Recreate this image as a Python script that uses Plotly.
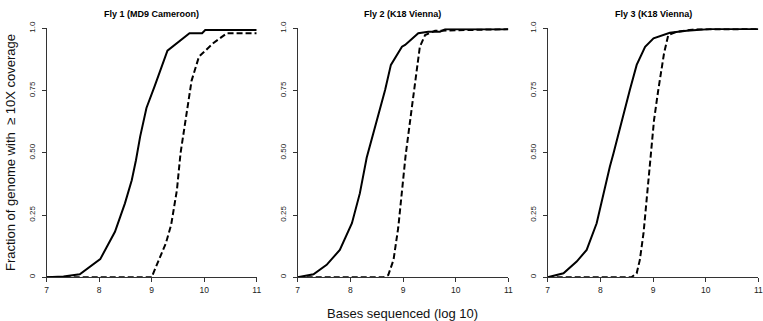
import plotly.graph_objects as go

titles = ["Fly 1 (MD9 Cameroon)", "Fly 2 (K18 Vienna)", "Fly 3 (K18 Vienna)"]

# Panel 1
p1_solid_x = [7.0, 7.32, 7.63, 8.02, 8.30, 8.49, 8.62, 8.70, 8.78, 8.90, 9.06, 9.30, 9.72, 9.96, 10.02, 11.0]
p1_solid_y = [0.0, 0.003, 0.012, 0.073, 0.183, 0.297, 0.39, 0.47, 0.565, 0.68, 0.77, 0.91, 0.98, 0.98, 0.993, 0.993]
p1_dash_x = [7.0, 9.0, 9.03, 9.27, 9.37, 9.48, 9.55, 9.67, 9.76, 9.90, 10.17, 10.43, 11.0]
p1_dash_y = [0.0, 0.0, 0.016, 0.137, 0.21, 0.35, 0.50, 0.66, 0.79, 0.886, 0.94, 0.98, 0.98]

# Panel 2
p2_solid_x = [7.0, 7.30, 7.55, 7.80, 8.03, 8.18, 8.31, 8.50, 8.66, 8.77, 8.98, 9.04, 9.29, 9.48, 9.70, 9.80, 11.0]
p2_solid_y = [0.0, 0.012, 0.05, 0.11, 0.217, 0.337, 0.48, 0.632, 0.752, 0.853, 0.926, 0.933, 0.98, 0.986, 0.986, 0.996, 0.996]
p2_dash_x = [7.0, 8.63, 8.72, 8.82, 8.91, 8.98, 9.05, 9.17, 9.26, 9.32, 9.42, 9.61, 11.0]
p2_dash_y = [0.0, 0.0, 0.009, 0.07, 0.20, 0.337, 0.49, 0.685, 0.82, 0.926, 0.973, 0.99, 0.997]

# Panel 3
p3_solid_x = [7.0, 7.30, 7.55, 7.74, 7.93, 8.06, 8.18, 8.25, 8.41, 8.56, 8.69, 8.85, 9.01, 9.32, 9.64, 10.08, 11.0]
p3_solid_y = [0.0, 0.016, 0.063, 0.11, 0.217, 0.337, 0.444, 0.498, 0.632, 0.752, 0.853, 0.926, 0.96, 0.982, 0.99, 0.997, 0.997]
p3_dash_x = [7.0, 8.59, 8.69, 8.75, 8.82, 8.88, 8.93, 8.96, 9.02, 9.10, 9.21, 9.29, 9.45, 9.80, 11.0]
p3_dash_y = [0.0, 0.0, 0.016, 0.07, 0.177, 0.31, 0.444, 0.498, 0.632, 0.752, 0.90, 0.973, 0.986, 0.996, 0.997]

x_ticks = [7, 8, 9, 10, 11]
x_ticklabels = ["7", "8", "9", "10", "11"]
y_ticks = [0, 0.25, 0.5, 0.75, 1.0]
y_ticklabels = ["0", "0.25", "0.50", "0.75", "1.0"]

panels = [
    (p1_solid_x, p1_solid_y, p1_dash_x, p1_dash_y),
    (p2_solid_x, p2_solid_y, p2_dash_x, p2_dash_y),
    (p3_solid_x, p3_solid_y, p3_dash_x, p3_dash_y),
]

W, H = 763, 321
x_px = [(46.7, 256.7), (297.7, 508.3), (547.7, 758.3)]
y_px = (28.3, 277.3)
ydom = [(H - y_px[1]) / H, (H - y_px[0]) / H]

FONT = "Arial, Liberation Sans, Helvetica, sans-serif"
fig = go.Figure()
layout = dict(
    width=W, height=H,
    margin=dict(l=0, r=0, t=0, b=0, autoexpand=False),
    paper_bgcolor="white", plot_bgcolor="white",
    showlegend=False,
    font=dict(family=FONT, color="#222"),
    annotations=[],
)

for i, (sx, sy, dx, dy) in enumerate(panels):
    n = "" if i == 0 else str(i + 1)
    xa = "x" + n
    ya = "y" + n
    fig.add_trace(go.Scatter(x=dx, y=dy, mode="lines", xaxis=xa, yaxis=ya,
                             line=dict(color="black", width=2, dash="6px,3px")))
    fig.add_trace(go.Scatter(x=sx, y=sy, mode="lines", xaxis=xa, yaxis=ya,
                             line=dict(color="black", width=2)))
    xd = [x_px[i][0] / W, x_px[i][1] / W]
    layout["xaxis" + n] = dict(
        domain=xd, range=[7, 11], anchor=ya, showgrid=False, zeroline=False,
        automargin=False,
        showline=True, linecolor="#333", linewidth=1, ticks="outside", ticklen=4,
        tickcolor="#333", tickvals=x_ticks, ticktext=x_ticklabels,
        tickfont=dict(size=8.5, family=FONT, color="#222"),
    )
    layout["yaxis" + n] = dict(
        domain=ydom, range=[0, 1], anchor=xa, showgrid=False, zeroline=False,
        automargin=False,
        showline=True, linecolor="#333", linewidth=1, ticks="outside", ticklen=4,
        tickcolor="#333", tickvals=y_ticks, ticktext=y_ticklabels, tickangle=-90,
        ticklabelstandoff=4,
        tickfont=dict(size=8, family=FONT, color="#222"),
    )
    layout["annotations"].append(dict(
        text="<b>" + titles[i] + "</b>", x=(xd[0] + xd[1]) / 2, y=(H - 14) / H,
        xref="paper", yref="paper", showarrow=False, xanchor="center", yanchor="middle",
        font=dict(size=9, family=FONT, color="black"),
    ))

layout["annotations"].append(dict(
    text="Bases sequenced (log 10)", x=403 / W, y=(H - 313) / H, xref="paper", yref="paper",
    showarrow=False, xanchor="center", yanchor="middle",
    font=dict(size=13, family=FONT, color="#111"),
))
layout["annotations"].append(dict(
    text="Fraction of genome with  \u2265 10X coverage", x=10 / W, y=(H - 153) / H,
    xref="paper", yref="paper", showarrow=False, xanchor="center", yanchor="middle",
    textangle=-90, font=dict(size=13, family=FONT, color="#111"),
))

fig.update_layout(**layout)
fig.write_html("out.html", config={"displayModeBar": False},
               post_script="document.body.style.margin='0px';document.body.style.overflow='hidden';")
